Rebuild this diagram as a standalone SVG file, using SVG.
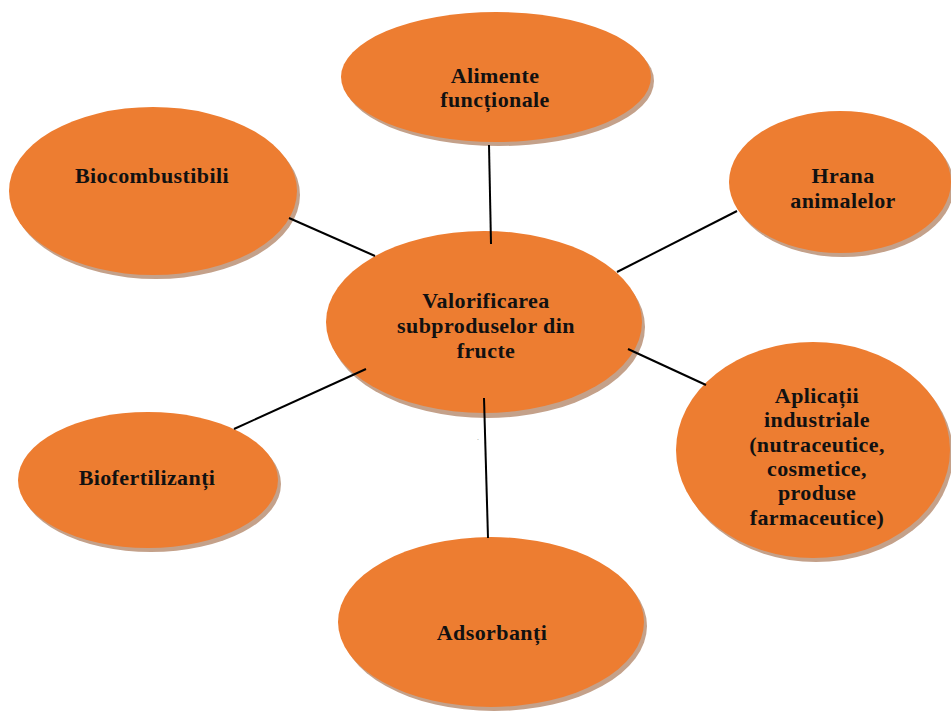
<svg xmlns="http://www.w3.org/2000/svg" width="951" height="712" viewBox="0 0 951 712">
<style>
.sh{fill:#c4a18a}
.el{fill:#ed7d31}
.t{font-family:"Liberation Serif","Times New Roman",serif;font-weight:bold;font-size:22px;letter-spacing:0.4px;fill:#111;text-anchor:middle}
.ln{stroke:#000;stroke-width:2;fill:none}
</style>
<rect width="951" height="712" fill="#fff"/>
<g id="alimente">
<ellipse class="sh" cx="499" cy="81" rx="155" ry="65"/>
<ellipse class="el" cx="496" cy="77" rx="155" ry="65"/>
<text class="t" x="495" y="83">Alimente</text>
<text class="t" x="495" y="107">funcționale</text>
</g>
<g id="biocombustibili">
<ellipse class="sh" cx="156" cy="195" rx="144" ry="84"/>
<ellipse class="el" cx="153" cy="191" rx="144" ry="84"/>
<text class="t" x="152" y="183">Biocombustibili</text>
</g>
<g id="hrana">
<ellipse class="sh" cx="843" cy="186" rx="111" ry="71"/>
<ellipse class="el" cx="840" cy="182" rx="111" ry="71"/>
<text class="t" x="843" y="183">Hrana</text>
<text class="t" x="843" y="208">animalelor</text>
</g>
<g id="central">
<ellipse class="sh" cx="487" cy="327" rx="158" ry="91"/>
<ellipse class="el" cx="484" cy="322" rx="158" ry="91"/>
<text class="t" x="486" y="308">Valorificarea</text>
<text class="t" x="486" y="333">subproduselor din</text>
<text class="t" x="486" y="358">fructe</text>
</g>
<g id="aplicatii">
<ellipse class="sh" cx="816" cy="454" rx="137" ry="108"/>
<ellipse class="el" cx="813" cy="450" rx="137" ry="108"/>
<text class="t" x="817" y="403">Aplicații</text>
<text class="t" x="817" y="427">industriale</text>
<text class="t" x="817" y="452">(nutraceutice,</text>
<text class="t" x="817" y="476">cosmetice,</text>
<text class="t" x="817" y="500">produse</text>
<text class="t" x="817" y="525">farmaceutice)</text>
</g>
<g id="biofertilizanti">
<ellipse class="sh" cx="151" cy="484" rx="130" ry="68"/>
<ellipse class="el" cx="148" cy="480" rx="130" ry="68"/>
<text class="t" x="147" y="485">Biofertilizanți</text>
</g>
<g id="adsorbanti">
<ellipse class="sh" cx="494" cy="626" rx="153" ry="85"/>
<ellipse class="el" cx="491" cy="622" rx="153" ry="85"/>
<text class="t" x="492" y="640">Adsorbanți</text>
</g>
<g id="connectors">
<line class="ln" x1="489" y1="145" x2="491" y2="244"/>
<line class="ln" x1="289" y1="218" x2="375" y2="256"/>
<line class="ln" x1="737" y1="211" x2="617" y2="272"/>
<line class="ln" x1="628" y1="349" x2="706" y2="385"/>
<line class="ln" x1="234" y1="429" x2="366" y2="369"/>
<line class="ln" x1="484" y1="398" x2="488" y2="538"/>
</g>
<text x="477" y="440" font-family="Liberation Sans, sans-serif" font-size="7" fill="#888">.</text>
</svg>
